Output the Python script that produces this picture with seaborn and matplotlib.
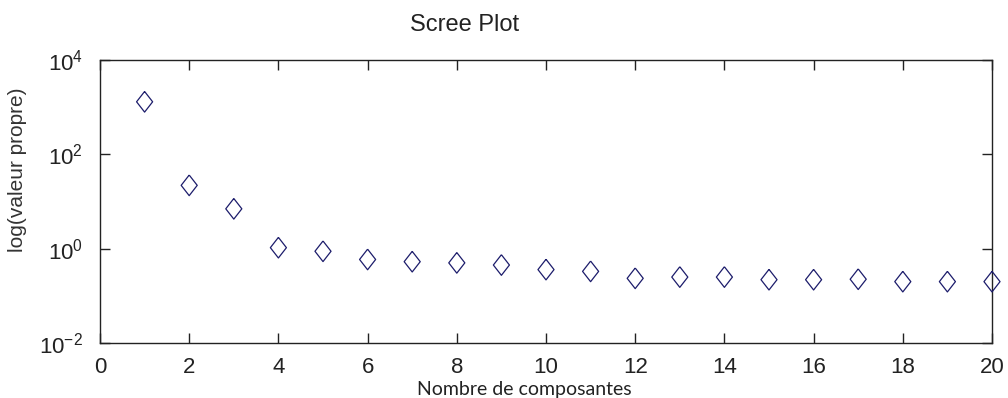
import matplotlib
matplotlib.use("Agg")
import matplotlib.pyplot as plt
import seaborn as sns
import pandas as pd

components = list(range(1, 21))
eigenvalues = [1300, 22, 7.0, 1.05, 0.88, 0.59, 0.53, 0.50, 0.45, 0.36,
               0.33, 0.235, 0.25, 0.25, 0.22, 0.22, 0.225, 0.20, 0.20, 0.20]
x_ticks = [0, 2, 4, 6, 8, 10, 12, 14, 16, 18, 20]
y_ticks = [1e-2, 1e0, 1e2, 1e4]

sns.set_style("ticks")
plt.rcParams['font.family'] = ['Liberation Sans', 'DejaVu Sans']
plt.rcParams['mathtext.fontset'] = 'custom'
plt.rcParams['mathtext.rm'] = 'Liberation Sans'
plt.rcParams['axes.unicode_minus'] = False

df = pd.DataFrame({"comp": components, "val": eigenvalues})

W, H = 1008, 398
fig = plt.figure(figsize=(W / 100, H / 100), dpi=100)
ax = fig.add_axes([100 / W, (H - 343) / H, 892 / W, 283 / H])

diamond = [(0, 1), (0.78, 0), (0, -1), (-0.78, 0), (0, 1)]
sns.scatterplot(data=df, x="comp", y="val", ax=ax, marker=diamond, s=220,
                facecolor="none", edgecolor="#1c1c6b", linewidth=0.9,
                legend=False, clip_on=False, zorder=3)

ax.set_yscale("log")
ax.set_xlim(0, 20)
ax.set_ylim(1e-2, 1e4)
ax.set_xticks(x_ticks)
ax.set_yticks(y_ticks)
ax.minorticks_off()
ax.tick_params(direction="in", length=7, width=1, top=True, right=True,
               labelsize=16, colors="#222222", pad=10)
ax.tick_params(axis="y", pad=12)
for s in ax.spines.values():
    s.set_visible(True)
    s.set_linewidth(1.0)
    s.set_color("#222222")
ax.set_xlabel("")
ax.set_ylabel("")

fig.text(465 / W, 1 - 25 / H, "Scree Plot", ha="center", va="center",
         fontsize=17, color="#222222")
fig.text(524 / W, 1 - 390 / H, "Nombre de composantes", ha="center",
         va="center", fontsize=14, color="#222222", family=["Lato", "DejaVu Sans"])
fig.text(18 / W, 1 - 170 / H, "log(valeur propre)", ha="center", va="center",
         rotation=90, fontsize=15, color="#333333")

fig.savefig("out.png", dpi=100, facecolor="white")
